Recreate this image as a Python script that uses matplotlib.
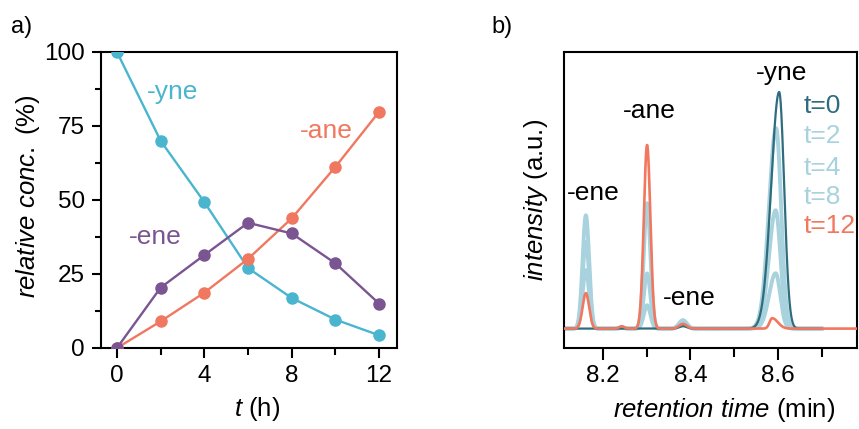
import numpy as np
import matplotlib
matplotlib.use('Agg')
import matplotlib.pyplot as plt
from matplotlib.ticker import MultipleLocator

plt.rcParams['font.family'] = ['Liberation Sans', 'DejaVu Sans']
plt.rcParams['mathtext.fontset'] = 'custom'
plt.rcParams['mathtext.it'] = 'Liberation Sans:italic'
plt.rcParams['mathtext.rm'] = 'Liberation Sans'

# panel a: relative concentrations vs time
t_h = [0, 2, 4, 6, 8, 10, 12]
yne_conc = [100, 70.0, 49.3, 27.0, 16.9, 9.6, 4.3]
ane_conc = [0, 9.0, 18.7, 30.1, 43.8, 61.2, 79.8]
ene_conc = [0, 20.4, 31.4, 42.3, 38.7, 28.6, 15.0]

# panel b: peak table (one entry per trace)
trace_names = ['t=0', 't=2', 't=4', 't=8', 't=12']
peak_rt = [8.161, 8.243, 8.301, 8.383]
peak_sigma = [0.0075, 0.006, 0.0075, 0.009]
ene1_height = [0, 24.7, 36.6, 47.9, 15.0]
small_height = [0, 0.3, 0.3, 0.5, 1.0]
ane_height = [0, 9.9, 23.3, 53.0, 77.6]
ene2_height = [1.0, 1.8, 2.8, 3.6, 2.0]
yne_height = [100, 84.7, 50.0, 23.4, 4.4]
yne_rt = [8.603, 8.596, 8.595, 8.595, 8.587]
yne_sig_left = [0.0183, 0.0165, 0.0155, 0.015, 0.006]
yne_sig_right = [0.0114, 0.0115, 0.011, 0.0105, 0.013]
trace_end = [8.70, 8.70, 8.70, 8.70, 8.79]

c_yne = '#4ab5cf'
c_ane = '#f07860'
c_ene = '#7b5492'
trace_colors = ['#2f6c7e', '#a8d2de', '#a8d2de', '#a8d2de', '#f2775f']
trace_lw = [1.6, 2.8, 2.8, 2.8, 1.9]
trace_z = [3, 2, 2, 2, 4]


def chromatogram(rt, k):
    y = np.zeros_like(rt)
    hts = [ene1_height[k], small_height[k], ane_height[k], ene2_height[k]]
    for c, s, h in zip(peak_rt, peak_sigma, hts):
        y += h * np.exp(-0.5 * ((rt - c) / s) ** 2)
    s = np.where(rt < yne_rt[k], yne_sig_left[k], yne_sig_right[k])
    y += yne_height[k] * np.exp(-0.5 * ((rt - yne_rt[k]) / s) ** 2)
    return y


fig = plt.figure(figsize=(8.59, 4.29), dpi=100)
W, H = 859, 429

# ---- panel a
ax1 = fig.add_axes([101 / W, 1 - 348 / H, 296 / W, 296 / H])
ax1.plot(t_h, yne_conc, '-o', color=c_yne, lw=1.7, ms=8, zorder=3)
ax1.plot(t_h, ane_conc, '-o', color=c_ane, lw=1.7, ms=8, zorder=3)
ax1.plot(t_h, ene_conc, '-o', color=c_ene, lw=1.7, ms=8, zorder=3)
ax1.set_xlim(-0.73, 12.82)
ax1.set_ylim(0, 100)
ax1.xaxis.set_major_locator(MultipleLocator(4))
ax1.xaxis.set_minor_locator(MultipleLocator(2))
ax1.yaxis.set_major_locator(MultipleLocator(25))
ax1.yaxis.set_minor_locator(MultipleLocator(12.5))
ax1.tick_params(which='major', length=7.5, width=1.5, labelsize=17.5, pad=5)
ax1.tick_params(which='minor', length=5, width=1.5)
ax1.tick_params(axis='y', which='major', length=6.5, pad=5)
ax1.tick_params(axis='y', which='minor', length=4.5)
for sp in ax1.spines.values():
    sp.set_linewidth(1.5)
ax1.text(1.37, 84.0, '-yne', color=c_yne, fontsize=19)
ax1.text(8.38, 70.9, '-ane', color=c_ane, fontsize=19)
ax1.text(0.55, 35.1, '-ene', color=c_ene, fontsize=19)

# ---- panel b
ax2 = fig.add_axes([564 / W, 1 - 348 / H, 293 / W, 296 / H])
for k, name in enumerate(trace_names):
    rt = np.linspace(8.111, trace_end[k], 1500)
    ax2.plot(rt, chromatogram(rt, k), color=trace_colors[k], lw=trace_lw[k],
             zorder=trace_z[k], solid_joinstyle='round')
ax2.set_xlim(8.111, 8.781)
ax2.set_ylim(-8.2, 116.9)
ax2.set_yticks([])
ax2.xaxis.set_major_locator(MultipleLocator(0.2))
ax2.xaxis.set_minor_locator(MultipleLocator(0.1))
ax2.xaxis.set_major_formatter(matplotlib.ticker.FormatStrFormatter('%.1f'))
ax2.tick_params(which='major', length=8.6, width=1.5, labelsize=17.5, pad=4)
ax2.tick_params(which='minor', length=6.5, width=1.5)
for sp in ax2.spines.values():
    sp.set_linewidth(1.5)
ax2.text(8.118, 54.3, '-ene', color='black', fontsize=19)
ax2.text(8.246, 88.9, '-ane', color='black', fontsize=19)
ax2.text(8.337, 9.9, '-ene', color='black', fontsize=19)
ax2.text(8.550, 105.1, '-yne', color='black', fontsize=19)
legend_y = [91.0, 78.3, 64.9, 52.6, 40.3]
for k, name in enumerate(trace_names):
    ax2.text(8.659, legend_y[k], name, color=trace_colors[k], fontsize=19)

# axis labels and panel letters
fig.text(27.5 / W, 1 - 196 / H, r'$\it{relative\ conc.}$ (%)', rotation=90,
         ha='center', va='center', fontsize=18.5)
fig.text(257 / W, 1 - 409 / H, r'$\it{t}$ (h)', ha='center', va='center', fontsize=18.5)
fig.text(536 / W, 1 - 200 / H, r'$\it{intensity}$ (a.u.)', rotation=90,
         ha='center', va='center', fontsize=18.5)
fig.text(724 / W, 1 - 410 / H, r'$\it{retention\ time}$ (min)', ha='center',
         va='center', fontsize=18.5)
fig.text(11 / W, 1 - 27 / H, 'a)', ha='left', va='center', fontsize=17)
fig.text(491 / W, 1 - 27 / H, 'b)', ha='left', va='center', fontsize=17)

fig.savefig('out.png', dpi=100)
